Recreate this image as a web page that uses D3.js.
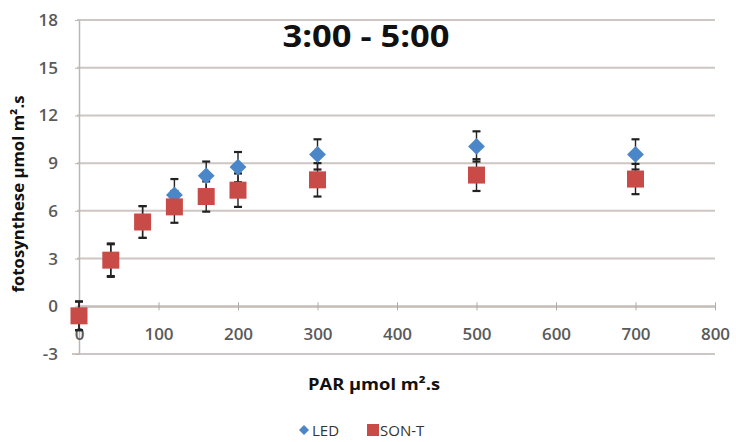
<!DOCTYPE html>
<html><head><meta charset="utf-8">
<script src="https://cdn.jsdelivr.net/npm/d3@7"></script>
<style>body{margin:0;background:#fff}svg{display:block}</style>
</head><body>
<script>
const par = [0, 40, 80, 120, 160, 200, 300, 500, 700];
const led = [-0.6, 2.9, 5.3, 7.0, 8.2, 8.75, 9.55, 10.05, 9.55];
const ledErr = [0.9, 1.0, 1.0, 1.0, 0.9, 0.95, 0.95, 0.95, 0.95];
const sont = [-0.6, 2.9, 5.3, 6.25, 6.9, 7.3, 7.95, 8.25, 8.0];
const sontErr = [0.9, 1.05, 1.0, 1.0, 0.95, 1.05, 1.05, 1.0, 0.95];
const xTicks = [0, 100, 200, 300, 400, 500, 600, 700, 800];
const yTicks = [-3, 0, 3, 6, 9, 12, 15, 18];
const title = "3:00 - 5:00";
const xLabel = "PAR µmol m².s";
const yLabel = "fotosynthese µmol m².s";
const seriesNames = ["LED", "SON-T"];

const W = 736, H = 442;
const svg = d3.select("body").append("svg").attr("width", W).attr("height", H);
const font = "'Open Sans', sans-serif";
const x = d3.scaleLinear().domain([0, 800]).range([79, 715]);
const y = d3.scaleLinear().domain([-3, 18]).range([354, 20]);

// gridlines
svg.append("g").selectAll("line").data(yTicks).join("line")
  .attr("x1", d => d === -3 ? 72 : 77).attr("x2", 715).attr("y1", d => y(d)).attr("y2", d => y(d))
  .attr("stroke", "#cdc6c2").attr("stroke-width", 2);

// y axis
const ya = svg.append("g").attr("transform", "translate(79,0)")
  .call(d3.axisLeft(y).tickValues(yTicks).tickFormat(d => String(d)).tickSize(4).tickPadding(17).tickSizeOuter(0));
ya.select(".domain").attr("stroke", "#bdb7b3").attr("stroke-width", 1.5);
ya.selectAll(".tick line").attr("stroke", "#bdb7b3");
ya.selectAll("text").attr("font-family", font).attr("font-size", 17).attr("font-weight", 600).attr("fill", "#5a5a5a");

// x axis at y=0
const xa = svg.append("g").attr("transform", `translate(0,${y(0)})`)
  .call(d3.axisBottom(x).tickValues(xTicks).tickFormat(d => String(d)).tickSize(4).tickPadding(18).tickSizeOuter(0));
xa.select(".domain").attr("stroke", "#c4bdb9").attr("stroke-width", 2);
xa.selectAll(".tick line").attr("stroke", "#b0aaa6").attr("y1", -4);
xa.selectAll("text").attr("font-family", font).attr("font-size", 17).attr("font-weight", 600).attr("fill", "#5a5a5a");

// error bars
function errBars(vals, errs) {
  const g = svg.append("g");
  const data = par.map((p, i) => ({p, v: vals[i], e: errs[i]}));
  g.selectAll("line.v").data(data).join("line").attr("class", "v")
    .attr("x1", d => x(d.p)).attr("x2", d => x(d.p))
    .attr("y1", d => y(d.v - d.e)).attr("y2", d => y(d.v + d.e))
    .attr("stroke", "#222").attr("stroke-width", 1.4);
  ["lo", "hi"].forEach(k => {
    g.selectAll("line." + k).data(data).join("line").attr("class", k)
      .attr("x1", d => x(d.p) - 4).attr("x2", d => x(d.p) + 4)
      .attr("y1", d => y(k === "lo" ? d.v - d.e : d.v + d.e))
      .attr("y2", d => y(k === "lo" ? d.v - d.e : d.v + d.e))
      .attr("stroke", "#222").attr("stroke-width", 2.2);
  });
}
errBars(led, ledErr);
errBars(sont, sontErr);

// LED diamonds
svg.append("g").selectAll("path").data(par.map((p, i) => [p, led[i]])).join("path")
  .attr("d", d3.symbol(d3.symbolDiamond2, 180)())
  .attr("transform", d => `translate(${x(d[0])},${y(d[1])})`)
  .attr("fill", "#4a86c8");
// SON-T squares
svg.append("g").selectAll("rect").data(par.map((p, i) => [p, sont[i]])).join("rect")
  .attr("x", d => x(d[0]) - 8.5).attr("y", d => y(d[1]) - 8.5)
  .attr("width", 17).attr("height", 17)
  .attr("fill", "#c94b48");

// title
svg.append("text").attr("x", 366).attr("y", 47).attr("text-anchor", "middle")
  .attr("font-family", font).attr("font-size", 31).attr("font-weight", "bold").attr("fill", "#111")
  .attr("textLength", 167).attr("lengthAdjust", "spacingAndGlyphs")
  .text(title);

// axis labels
svg.append("text").attr("x", 374).attr("y", 390).attr("text-anchor", "middle")
  .attr("font-family", font).attr("font-size", 16).attr("font-weight", "bold").attr("fill", "#111")
  .attr("textLength", 132).attr("lengthAdjust", "spacingAndGlyphs")
  .text(xLabel);
svg.append("text").attr("transform", "translate(24,194) rotate(-90)").attr("text-anchor", "middle")
  .attr("font-family", font).attr("font-size", 16).attr("font-weight", "bold").attr("fill", "#111")
  .attr("textLength", 197).attr("lengthAdjust", "spacingAndGlyphs")
  .text(yLabel);

// legend
const lg = svg.append("g").attr("font-family", font).attr("font-size", 15).attr("fill", "#333");
lg.append("path").attr("d", d3.symbol(d3.symbolDiamond2, 64)()).attr("transform", "translate(304,430)").attr("fill", "#4a86c8");
lg.append("text").attr("x", 312).attr("y", 436).text(seriesNames[0]);
lg.append("rect").attr("x", 367).attr("y", 424).attr("width", 12).attr("height", 12).attr("fill", "#c94b48");
lg.append("text").attr("x", 380).attr("y", 436).text(seriesNames[1]);
</script>
</body></html>
